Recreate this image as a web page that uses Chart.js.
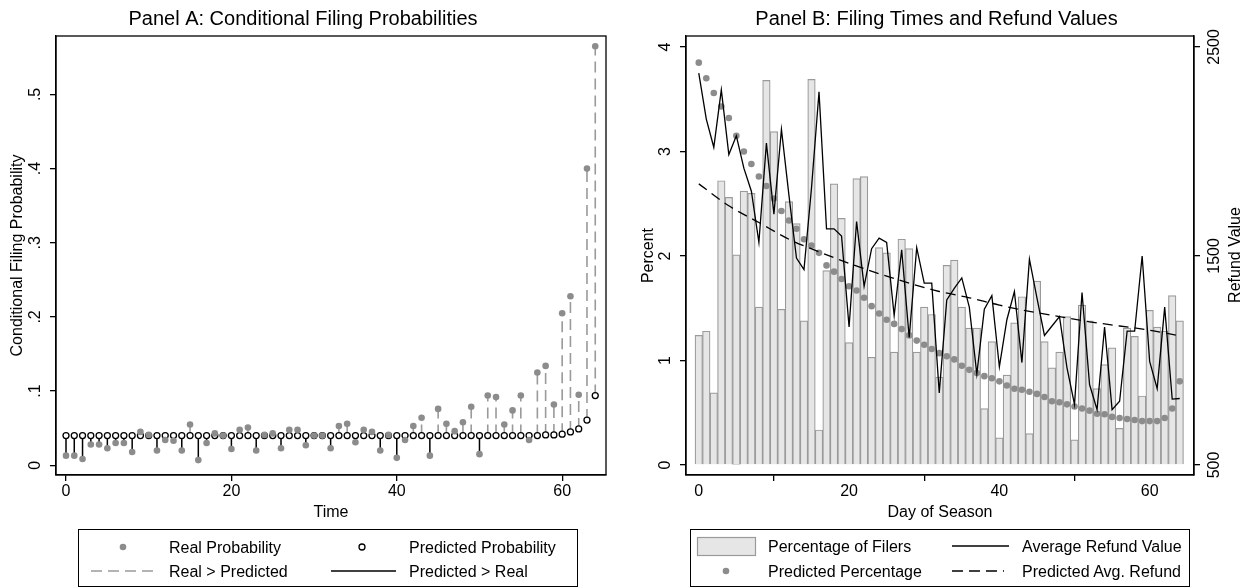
<!DOCTYPE html>
<html><head><meta charset="utf-8">
<script src="https://cdn.jsdelivr.net/npm/chart.js@4/dist/chart.umd.min.js"></script>
<style>
html,body{margin:0;padding:0;background:#fff;}
body{width:1245px;height:587px;position:relative;overflow:hidden;font-family:"Liberation Sans",Arial,sans-serif;}
#ca{position:absolute;left:0;top:0;}
#cb{position:absolute;left:628px;top:0;}
.legend{position:absolute;border:1px solid #000;box-sizing:border-box;background:#fff;}
.lt{position:absolute;font-size:16px;line-height:19px;color:#000;white-space:nowrap;transform:translateY(-50%);}
.rt{position:absolute;font-size:16px;line-height:19px;color:#000;white-space:nowrap;transform:translate(-50%,-50%) rotate(-90deg);}
#sym{position:absolute;left:0;top:0;pointer-events:none;}
</style></head>
<body>
<canvas id="ca" width="614" height="525"></canvas>
<canvas id="cb" width="617" height="525"></canvas>
<div class="legend" style="left:78px;top:529px;width:500px;height:58px;"></div>
<div class="legend" style="left:690px;top:529px;width:500px;height:58px;"></div>
<svg id="sym" width="1245" height="587">
  <circle cx="123" cy="547" r="3.3" fill="#8c8c8c"/>
  <circle cx="362" cy="547" r="3" fill="#fff" stroke="#000" stroke-width="1.3"/>
  <line x1="91" y1="571" x2="155" y2="571" stroke="#9a9a9a" stroke-width="1.6" stroke-dasharray="11 6"/>
  <line x1="331" y1="571" x2="396" y2="571" stroke="#000" stroke-width="1.5"/>
  <rect x="697.5" y="537.5" width="58" height="18" fill="#e6e6e6" stroke="#9a9a9a" stroke-width="1.2"/>
  <line x1="952" y1="546" x2="1009" y2="546" stroke="#000" stroke-width="1.3"/>
  <circle cx="726" cy="571" r="3.3" fill="#8c8c8c"/>
  <line x1="952" y1="571" x2="1004" y2="571" stroke="#000" stroke-width="1.3" stroke-dasharray="11 6"/>
</svg>
<div class="lt" style="left:169px;top:547px;">Real Probability</div>
<div class="lt" style="left:409px;top:547px;">Predicted Probability</div>
<div class="lt" style="left:169px;top:571px;">Real &gt; Predicted</div>
<div class="lt" style="left:409px;top:571px;">Predicted &gt; Real</div>
<div class="lt" style="left:768px;top:546px;">Percentage of Filers</div>
<div class="lt" style="left:1022px;top:546px;">Average Refund Value</div>
<div class="lt" style="left:768px;top:571px;">Predicted Percentage</div>
<div class="lt" style="left:1022px;top:571px;">Predicted Avg. Refund</div>
<div class="rt" style="left:1234px;top:255px;">Refund Value</div>
<script>
// ---------- data ----------
const days = [0,1,2,3,4,5,6,7,8,9,10,11,12,13,14,15,16,17,18,19,20,21,22,23,24,25,26,27,28,29,30,31,32,33,34,35,36,37,38,39,40,41,42,43,44,45,46,47,48,49,50,51,52,53,54,55,56,57,58,59,60,61,62,63,64];

// Panel A
const realProb = [0.013,0.013,0.0085,0.028,0.028,0.023,0.030,0.030,0.018,0.045,0.041,0.020,0.034,0.033,0.020,0.055,0.007,0.030,0.043,0.040,0.022,0.048,0.051,0.020,0.041,0.043,0.023,0.048,0.048,0.027,0.040,0.040,0.023,0.053,0.056,0.031,0.048,0.045,0.020,0.041,0.010,0.034,0.053,0.064,0.013,0.076,0.056,0.046,0.058,0.079,0.015,0.094,0.092,0.055,0.074,0.094,0.034,0.125,0.134,0.082,0.205,0.228,0.095,0.400,0.565];
const predProb = [0.04,0.04,0.04,0.04,0.04,0.04,0.04,0.04,0.04,0.04,0.04,0.04,0.04,0.04,0.04,0.04,0.04,0.04,0.04,0.04,0.04,0.04,0.04,0.04,0.04,0.04,0.04,0.04,0.04,0.04,0.04,0.04,0.04,0.04,0.04,0.04,0.04,0.04,0.04,0.04,0.04,0.04,0.04,0.04,0.04,0.04,0.04,0.04,0.04,0.04,0.04,0.04,0.04,0.04,0.04,0.04,0.04,0.040,0.041,0.041,0.042,0.045,0.049,0.061,0.094];
const xTicksA = [0,20,40,60];
const yTicksA = [0,0.1,0.2,0.3,0.4,0.5];
const yTickLabelsA = ['0','.1','.2','.3','.4','.5'];

// Panel B
const pctFilers = [1.24,1.28,0.69,2.72,2.56,2.01,2.62,2.60,1.51,3.68,3.19,1.49,2.52,2.31,1.38,3.69,0.335,1.86,2.69,2.36,1.17,2.74,2.76,1.03,2.08,2.03,1.08,2.16,2.07,1.08,1.51,1.44,0.84,1.91,1.96,1.51,1.31,1.31,0.54,1.18,0.26,0.86,1.36,1.61,0.30,1.76,1.18,0.93,1.08,1.42,0.24,1.53,1.38,0.73,0.96,1.12,0.35,1.31,1.23,0.66,1.48,1.32,1.28,1.62,1.38];
const predPct = [3.85,3.70,3.56,3.43,3.32,3.15,3.00,2.88,2.76,2.67,2.55,2.43,2.34,2.26,2.16,2.10,2.03,1.91,1.85,1.78,1.71,1.67,1.60,1.52,1.45,1.39,1.35,1.30,1.24,1.19,1.15,1.11,1.07,1.04,1.01,0.95,0.91,0.88,0.85,0.83,0.80,0.76,0.73,0.72,0.70,0.68,0.65,0.61,0.60,0.58,0.56,0.54,0.52,0.49,0.485,0.46,0.45,0.44,0.43,0.42,0.42,0.42,0.45,0.54,0.80];
const avgRefund = [2375,2155,2020,2295,1985,2075,1920,1810,1565,2040,1700,2105,1790,1490,1435,1825,2285,1630,1630,1595,1160,1665,1355,1535,1585,1565,1215,1530,1110,1540,1370,1370,845,1290,1345,1395,1255,935,1245,1310,970,1195,1330,990,1485,1300,1120,1165,1210,965,790,1325,885,765,1160,765,805,1140,1140,1500,995,865,1255,815,818];
const predRefundDays = [0,4,8,12,16,20,24,28,32,36,40,44,48,52,56,60,64];
const predRefund = [1845,1740,1660,1580,1520,1465,1415,1370,1330,1300,1265,1235,1210,1185,1165,1145,1118];
const xTicksB = [0,20,40,60];
const yTicksB = [0,1,2,3,4];
const y2TicksB = [500,1500,2500];

// ---------- styling ----------
const FONT = '"Liberation Sans", Arial, sans-serif';
Chart.defaults.font.family = FONT;
Chart.defaults.color = '#000';
const frame = {id:'frame', afterDraw(c){const a=c.chartArea,ctx=c.ctx;ctx.save();ctx.strokeStyle='#000';ctx.lineWidth=1.3;ctx.strokeRect(a.left,a.top,a.right-a.left,a.bottom-a.top);ctx.restore();}};
const gridOut = {display:true, drawOnChartArea:false, drawTicks:true, tickLength:6, color:'#000', lineWidth:1.3};
const borderStyle = {display:true, color:'#000', width:1.3};
const titlePlugin = t => ({display:true, text:t, color:'#000', font:{size:20, weight:'normal', family:FONT}, padding:{top:7,bottom:5}});

// ---------- Panel A ----------
const stemUp = [], stemDown = [];
days.forEach((d,i)=>{
  const r = realProb[i], p = predProb[i];
  const tgt = r > p ? stemUp : stemDown;
  tgt.push({x:d,y:p},{x:d,y:r},{x:d,y:null});
});
new Chart(document.getElementById('ca'), {
  type:'line',
  data:{datasets:[
    {label:'Real > Predicted', data:stemUp, borderColor:'#9a9a9a', borderWidth:1.6, borderDash:[11,6], pointRadius:0, spanGaps:false, order:4},
    {label:'Predicted > Real', data:stemDown, borderColor:'#000', borderWidth:1.5, pointRadius:0, spanGaps:false, order:3},
    {label:'Predicted Probability', data:days.map((d,i)=>({x:d,y:predProb[i]})), showLine:false, pointRadius:3, pointBackgroundColor:'#fff', pointBorderColor:'#000', pointBorderWidth:1.3, order:2},
    {label:'Real Probability', data:days.map((d,i)=>({x:d,y:realProb[i]})), showLine:false, pointRadius:3.3, pointBackgroundColor:'#8c8c8c', pointBorderColor:'#8c8c8c', pointBorderWidth:0, order:1}
  ]},
  options:{
    responsive:false, animation:false, events:[],
    layout:{padding:{left:0,right:8,top:0,bottom:0}},
    plugins:{legend:{display:false}, tooltip:{enabled:false}, title:titlePlugin('Panel A: Conditional Filing Probabilities')},
    scales:{
      x:{type:'linear', min:-1.21, max:65.3, grid:gridOut, border:borderStyle,
         afterBuildTicks:s=>{s.ticks = xTicksA.map(v=>({value:v}));},
         afterFit:s=>{s.height = 50;},
         ticks:{font:{size:16}, color:'#000', padding:1, maxRotation:0, minRotation:0},
         title:{display:true, text:'Time', font:{size:16}, color:'#000', padding:{top:0,bottom:3}}},
      y:{type:'linear', min:-0.0131, max:0.5788, grid:gridOut, border:borderStyle,
         afterBuildTicks:s=>{s.ticks = yTicksA.map(v=>({value:v}));},
         afterFit:s=>{s.width = 56;},
         ticks:{font:{size:16}, color:'#000', minRotation:90, maxRotation:90, crossAlign:'center', padding:7.5,
                callback:(v,i)=>yTickLabelsA[i]},
         title:{display:true, text:'Conditional Filing Probability', font:{size:16}, color:'#000', padding:{top:8,bottom:0}}}
    }
  },
  plugins:[frame]
});

// ---------- Panel B ----------
new Chart(document.getElementById('cb'), {
  type:'bar',
  data:{datasets:[
    {type:'line', label:'Average Refund Value', data:days.map((d,i)=>({x:d,y:avgRefund[i]})), yAxisID:'y2', borderColor:'#000', borderWidth:1.3, pointRadius:0, tension:0, order:1},
    {type:'line', label:'Predicted Avg. Refund', data:predRefundDays.map((d,i)=>({x:d,y:predRefund[i]})), yAxisID:'y2', borderColor:'#000', borderWidth:1.3, borderDash:[10,6], pointRadius:0, cubicInterpolationMode:'monotone', order:2},
    {type:'line', label:'Predicted Percentage', data:days.map((d,i)=>({x:d,y:predPct[i]})), yAxisID:'y', showLine:false, pointRadius:3.3, pointBackgroundColor:'#8c8c8c', pointBorderColor:'#8c8c8c', pointBorderWidth:0, order:3},
    {type:'bar', label:'Percentage of Filers', data:days.map((d,i)=>({x:d,y:pctFilers[i]})), yAxisID:'y', backgroundColor:'#e6e6e6', borderColor:'#9a9a9a', borderWidth:1.2, barPercentage:1, categoryPercentage:1, order:5}
  ]},
  options:{
    responsive:false, animation:false, events:[],
    layout:{padding:{left:0,right:0,top:0,bottom:0}},
    plugins:{legend:{display:false}, tooltip:{enabled:false}, title:titlePlugin('Panel B: Filing Times and Refund Values')},
    scales:{
      x:{type:'linear', offset:false, min:-1.70, max:65.9, grid:gridOut, border:borderStyle,
         afterBuildTicks:s=>{s.ticks = xTicksB.map(v=>({value:v}));},
         afterFit:s=>{s.height = 50;},
         ticks:{font:{size:16}, color:'#000', padding:1, maxRotation:0, minRotation:0},
         title:{display:true, text:'Day of Season', font:{size:16}, color:'#000', padding:{top:0,bottom:3}}},
      y:{type:'linear', position:'left', min:-0.096, max:4.105, grid:gridOut, border:borderStyle,
         afterBuildTicks:s=>{s.ticks = yTicksB.map(v=>({value:v}));},
         afterFit:s=>{s.width = 58;},
         ticks:{font:{size:16}, color:'#000', minRotation:90, maxRotation:90, crossAlign:'center', padding:9.5,
                callback:(v)=>String(v)},
         title:{display:true, text:'Percent', font:{size:16}, color:'#000', padding:{top:11,bottom:0}}},
      y2:{type:'linear', position:'right', min:452, max:2552.5, grid:gridOut, border:borderStyle,
         afterBuildTicks:s=>{s.ticks = y2TicksB.map(v=>({value:v}));},
         afterFit:s=>{s.width = 51;},
         ticks:{font:{size:16}, color:'#000', minRotation:90, maxRotation:90, crossAlign:'center', padding:-3,
                callback:(v)=>String(v)},
         title:{display:false}}
    }
  },
  plugins:[frame]
});
</script>
</body></html>
